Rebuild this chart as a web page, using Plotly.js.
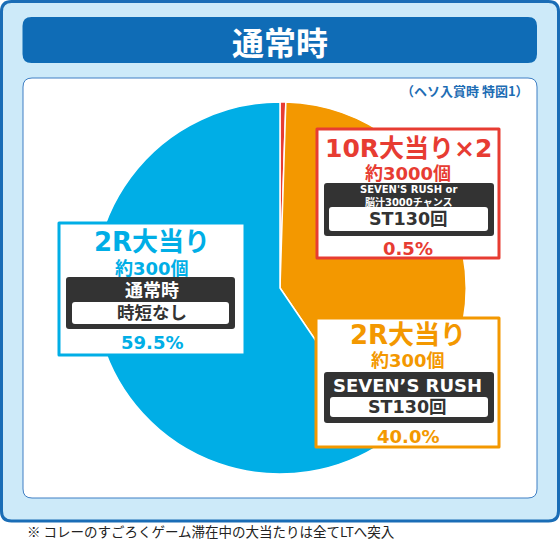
<!DOCTYPE html>
<html>
<head>
<meta charset="utf-8">
<script src="https://cdn.plot.ly/plotly-3.0.1.min.js"></script>
<style>
html,body{margin:0;padding:0;background:#fff;}
#chart{width:560px;height:543px;}
</style>
</head>
<body>
<div id="chart"></div>
<script>
// ---- data ----
const labels = ["10R大当り×2", "2R大当り（SEVEN’S RUSH）", "2R大当り（通常時）"];
const values = [0.5, 40.0, 59.5];
const sliceColors = ["#e73c32", "#f39800", "#00aee6"];
const boxTitles = ["10R大当り×2", "2R大当り", "2R大当り"];
const boxBalls = ["約3000個", "約300個", "約300個"];
const boxModes = ["SEVEN'S RUSH or<br>脳汁3000チャンス", "SEVEN’S RUSH", "通常時"];
const boxSubs = ["ST130回", "ST130回", "時短なし"];
const chartTitle = "通常時";
const noteText = "（ヘソ入賞時 特図1）";
const footText = "※ コレーのすごろくゲーム滞在中の大当たりは全てLTへ突入";

// ---- layout helpers (pixel coordinates via hidden 1:1 axes) ----
const W = 560, H = 543;
const FONT_CJK = "Noto Sans CJK JP, Noto Sans, sans-serif";
const FONT_MIX = "DejaVu Sans, Noto Sans CJK JP, sans-serif";
function rr(x0, y0, x1, y1, r) {
  return `M${x0 + r},${y0} L${x1 - r},${y0} Q${x1},${y0} ${x1},${y0 + r} L${x1},${y1 - r} Q${x1},${y1} ${x1 - r},${y1} L${x0 + r},${y1} Q${x0},${y1} ${x0},${y1 - r} L${x0},${y0 + r} Q${x0},${y0} ${x0 + r},${y0} Z`;
}
function pathShape(p, fill, lineColor, lineWidth, layer) {
  return {type: "path", xref: "x", yref: "y", path: p, fillcolor: fill,
    line: {color: lineColor || "rgba(0,0,0,0)", width: lineWidth || 0}, layer: layer};
}
function txt(x, y, text, size, color, bold, opts) {
  opts = opts || {};
  return {xref: "x", yref: "y", x: x, y: y, text: bold ? "<b>" + text + "</b>" : text,
    showarrow: false, xanchor: opts.xa || "center", yanchor: opts.ya || "middle",
    font: {family: opts.family || FONT_MIX, size: size, color: color}};
}

const shapes = [
  pathShape(rr(1.5, 1.5, 558.5, 521, 10), "#cdeaf9", "#1a6db6", 3, "below"),
  pathShape(rr(22.5, 17, 537, 63, 9), "#0f6cb6", null, 0, "below"),
  pathShape(rr(23, 78, 537, 498, 9), "#ffffff", "#3f7fc4", 1, "below")
];
const annotations = [
  txt(280, 41, chartTitle, 32, "#ffffff", true, {family: FONT_CJK}),
  txt(531, 90, noteText, 13, "#1d6db4", true, {xa: "right", family: FONT_CJK}),
  txt(25, 543, footText, 13.5, "#222222", false, {xa: "left", ya: "bottom", family: FONT_CJK})
];

// boxes: frame, dark box, white sub box, text y positions
const boxes = [
  {b: [317, 129, 499, 258], d: [324, 183, 494, 236], w: [329, 207, 488, 231], yT: 148, yB: 173, yM: 196, yS: 219, yP: 248, mSize: 10},
  {b: [316, 318, 499, 447], d: [324, 372, 494, 423], w: [330, 397, 488, 417], yT: 335, yB: 360, yM: 385, yS: 407, yP: 436, mSize: 18},
  {b: [59, 223, 245, 355], d: [66, 277, 235, 329], w: [72, 302, 229, 324], yT: 242, yB: 268, yM: 290, yS: 313, yP: 342, mSize: 18}
];
boxes.forEach((bx, i) => {
  const c = sliceColors[i];
  shapes.push(pathShape(rr(bx.b[0], bx.b[1], bx.b[2], bx.b[3], 0.01), "#ffffff", c, 3, "above"));
  shapes.push(pathShape(rr(bx.d[0], bx.d[1], bx.d[2], bx.d[3], 3), "#333333", null, 0, "above"));
  shapes.push(pathShape(rr(bx.w[0], bx.w[1], bx.w[2], bx.w[3], 3), "#ffffff", null, 0, "above"));
  const cx = (bx.b[0] + bx.b[2]) / 2;
  annotations.push(txt(cx, bx.yT, boxTitles[i], i === 0 ? 25 : 26, c, true));
  annotations.push(txt(cx, bx.yB, boxBalls[i], 18, c, true));
  annotations.push(txt(cx, bx.yM, boxModes[i], bx.mSize, "#ffffff", true));
  annotations.push(txt(cx, bx.yS, boxSubs[i], 17.5, "#333333", true));
  annotations.push(txt(cx, bx.yP, values[i].toFixed(1) + "%", 18, c, true));
});

// pie geometry: centre (280,288), radius 186 px
const cxp = 280, cyp = 288, rp = 186;
const data = [
  {type: "scatter", x: [null], y: [null], mode: "markers", showlegend: false, hoverinfo: "skip"},
  {type: "pie", labels: labels, values: values, sort: false, direction: "clockwise", rotation: 0,
    marker: {colors: sliceColors, line: {color: "#ffffff", width: 1.5}},
    textinfo: "none", hoverinfo: "label+percent", showlegend: false,
    domain: {x: [(cxp - rp) / W, (cxp + rp) / W], y: [1 - (cyp + rp) / H, 1 - (cyp - rp) / H]}}
];
const layout = {
  width: W, height: H, margin: {l: 0, r: 0, t: 0, b: 0},
  paper_bgcolor: "#ffffff", plot_bgcolor: "rgba(0,0,0,0)",
  xaxis: {range: [0, W], visible: false, fixedrange: true},
  yaxis: {range: [H, 0], visible: false, fixedrange: true},
  shapes: shapes, annotations: annotations, showlegend: false
};
Plotly.newPlot("chart", data, layout, {displayModeBar: false, staticPlot: true});
</script>
</body>
</html>
